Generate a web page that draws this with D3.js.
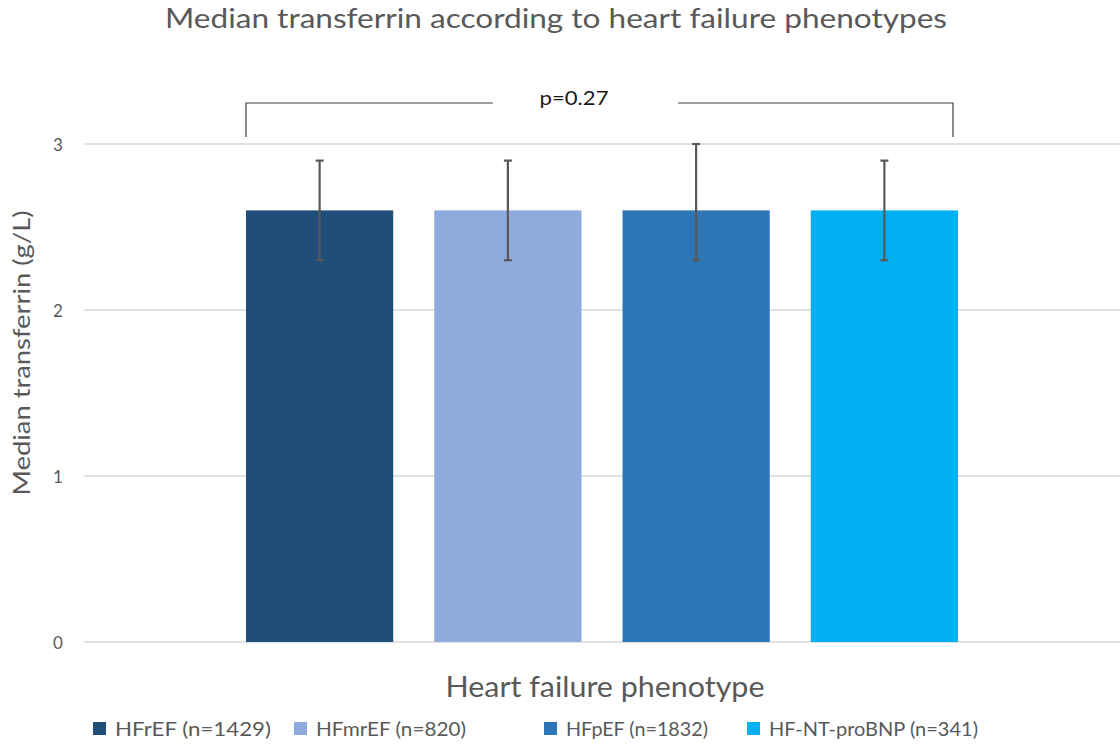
<!DOCTYPE html>
<html>
<head>
    <meta charset="utf-8">
    <script src="https://d3js.org/d3.v7.min.js"></script>
    <style>
        body { margin: 0; background: #fff; }
        text { font-family: Lato, "Open Sans", sans-serif; }
    </style>
</head>
<body>
    <svg id="chart" width="1120" height="749"></svg>

    <script>
        // Data
        const groups  = ["HFrEF (n=1429)", "HFmrEF (n=820)", "HFpEF (n=1832)", "HF-NT-proBNP (n=341)"];
        const medians = [2.6, 2.6, 2.6, 2.6];
        const lower   = [2.3, 2.3, 2.3, 2.3];
        const upper   = [2.9, 2.9, 3.0, 2.9];
        const colors  = ["#1f4e79", "#8faadc", "#2e75b6", "#00b0f0"];
        const yTicks  = [0, 1, 2, 3];
        const pLabel  = "p=0.27";

        const data = groups.map((g, i) => ({ g, v: medians[i], lo: lower[i], hi: upper[i], c: colors[i] }));

        const svg = d3.select("#chart");
        const grey = "#595959";

        // plot area
        const plotL = 84, plotR = 1120, plotT = 144, plotB = 642;

        const y = d3.scaleLinear().domain([0, 3]).range([plotB, plotT]);

        const x = d3.scaleBand()
            .domain(groups)
            .range([225.5, 978.5])
            .paddingInner(0.218)
            .paddingOuter(0.109);

        // gridlines
        svg.append("g")
            .selectAll("line")
            .data(yTicks)
            .join("line")
                .attr("x1", plotL).attr("x2", plotR)
                .attr("y1", d => y(d)).attr("y2", d => y(d))
                .attr("stroke", "#d9d9d9")
                .attr("stroke-width", 1.3);

        // y tick labels
        svg.append("g")
            .selectAll("text")
            .data(yTicks)
            .join("text")
                .attr("x", 58)
                .attr("y", d => y(d) + 7)
                .attr("text-anchor", "middle")
                .attr("font-size", 17)
                .attr("fill", grey)
                .text(d => d);

        // bars
        svg.append("g")
            .selectAll("rect")
            .data(data)
            .join("rect")
                .attr("x", d => x(d.g))
                .attr("y", d => y(d.v))
                .attr("width", x.bandwidth())
                .attr("height", d => y(0) - y(d.v))
                .attr("fill", d => d.c);

        // error bars
        const err = svg.append("g").attr("stroke", grey).attr("stroke-width", 2.2);
        data.forEach(d => {
            const cx = x(d.g) + x.bandwidth() / 2;
            err.append("line").attr("x1", cx).attr("x2", cx).attr("y1", y(d.lo)).attr("y2", y(d.hi));
            err.append("line").attr("x1", cx - 4).attr("x2", cx + 4).attr("y1", y(d.lo)).attr("y2", y(d.lo));
            err.append("line").attr("x1", cx - 4).attr("x2", cx + 4).attr("y1", y(d.hi)).attr("y2", y(d.hi));
        });

        // significance bracket
        const bx1 = x(groups[0]), bx2 = x(groups[3]) + x.bandwidth() - 5, by = 103;
        const br = svg.append("g").attr("stroke", "#404040").attr("stroke-width", 1.2).attr("fill", "none");
        br.append("path").attr("d", `M${bx1},137V${by}H493`);
        br.append("path").attr("d", `M678,${by}H${bx2}V137`);
        svg.append("text")
            .attr("x", 574).attr("y", 105)
            .attr("text-anchor", "middle")
            .attr("font-size", 20)
            .attr("fill", "#1a1a1a")
            .attr("textLength", 69).attr("lengthAdjust", "spacingAndGlyphs")
            .text(pLabel);

        // title
        svg.append("text")
            .attr("x", 556).attr("y", 28)
            .attr("text-anchor", "middle")
            .attr("font-size", 26)
            .attr("fill", grey)
            .attr("textLength", 782).attr("lengthAdjust", "spacingAndGlyphs")
            .text("Median transferrin according to heart failure phenotypes");

        // axis titles
        svg.append("text")
            .attr("transform", "translate(30,353) rotate(-90)")
            .attr("text-anchor", "middle")
            .attr("font-size", 23)
            .attr("fill", grey)
            .attr("textLength", 285).attr("lengthAdjust", "spacingAndGlyphs")
            .text("Median transferrin (g/L)");

        svg.append("text")
            .attr("x", 605).attr("y", 697)
            .attr("text-anchor", "middle")
            .attr("font-size", 29)
            .attr("fill", grey)
            .attr("textLength", 319).attr("lengthAdjust", "spacingAndGlyphs")
            .text("Heart failure phenotype");

        // legend
        const legX = [93, 294, 544, 747];
        const legW = [156, 150, 142, 209];
        const leg = svg.append("g")
            .selectAll("g")
            .data(data)
            .join("g")
                .attr("transform", (d, i) => `translate(${legX[i]},722)`);
        leg.append("rect").attr("width", 13).attr("height", 13).attr("fill", d => d.c);
        leg.append("text")
            .attr("x", 22).attr("y", 14)
            .attr("font-size", 19)
            .attr("fill", grey)
            .attr("textLength", (d, i) => legW[i]).attr("lengthAdjust", "spacingAndGlyphs")
            .text(d => d.g);
    </script>
</body>
</html>
